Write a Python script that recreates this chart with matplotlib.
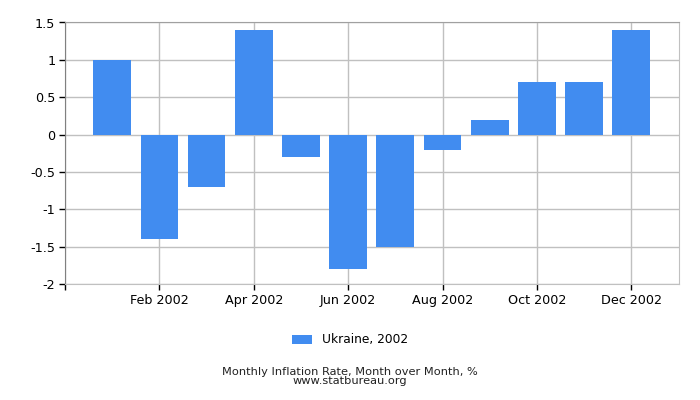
import numpy as np
import matplotlib
matplotlib.use("Agg")
import matplotlib.pyplot as plt

months = np.arange(1, 13)
values = [1.0, -1.4, -0.7, 1.4, -0.3, -1.8, -1.5, -0.2, 0.2, 0.7, 0.7, 1.4]
tick_pos = [0, 2, 4, 6, 8, 10, 12]
tick_labels = ["", "Feb 2002", "Apr 2002", "Jun 2002", "Aug 2002", "Oct 2002", "Dec 2002"]
y_ticks = [-2, -1.5, -1, -0.5, 0, 0.5, 1, 1.5]
y_labels = ["-2", "-1.5", "-1", "-0.5", "0", "0.5", "1", "1.5"]

plt.rcParams['font.family'] = ['DejaVu Sans']

fig = plt.figure(figsize=(7, 4), dpi=100)
ax = fig.add_axes([65 / 700, 1 - 284 / 400, (678.5 - 65) / 700, (284 - 22.5) / 400])

ax.bar(months, values, width=0.8, color='#418cf0', zorder=3, label='Ukraine, 2002')

ax.set_xlim(0, 13)
ax.set_ylim(-2, 1.5)
ax.set_xticks(tick_pos)
ax.set_xticklabels(tick_labels, fontsize=9.2)
ax.set_yticks(y_ticks)
ax.set_yticklabels(y_labels, fontsize=9.2)
ax.grid(True, color='#c0c0c0', linewidth=1, zorder=0)
ax.tick_params(axis='both', length=4, width=1, color='black', pad=3)

for side in ['right', 'bottom']:
    ax.spines[side].set_color('#c0c0c0')
ax.spines['top'].set_color('#a0a0a0')
ax.spines['left'].set_color('#808080')

fig.legend(loc='center', bbox_to_anchor=(0.5, 1 - 340 / 400), frameon=False,
           fontsize=8.8, handlelength=1.6, handleheight=0.8)
fig.text(0.5, 1 - 376.5 / 400,
         "Monthly Inflation Rate, Month over Month, %\nwww.statbureau.org",
         ha='center', va='center', fontsize=8.2, color='#222222', linespacing=0.95)

fig.savefig("out.png", dpi=100)
